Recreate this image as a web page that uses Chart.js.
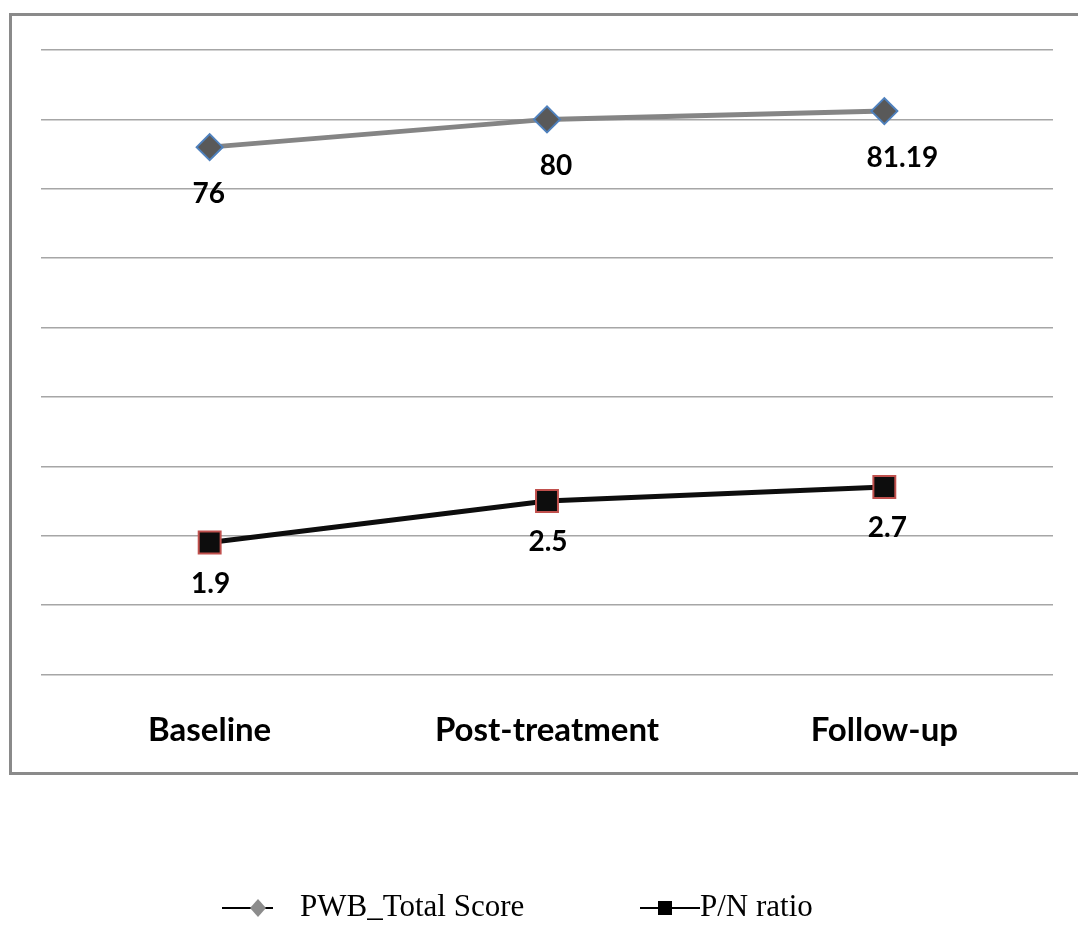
<!DOCTYPE html>
<html>
<head>
<meta charset="utf-8">
<script src="https://cdn.jsdelivr.net/npm/chart.js@4.4.1/dist/chart.umd.min.js"></script>
<style>
  html, body { margin: 0; padding: 0; background: #ffffff; }
  #wrap { width: 1078px; height: 925px; position: relative; }
</style>
</head>
<body>
<div id="wrap"><canvas id="chart" width="1078" height="925"></canvas></div>
<script>
// Time points of the study
const categories = ['Baseline', 'Post-treatment', 'Follow-up'];
// Psychological well-being total score
const pwbScores = [76, 80, 81.19];
// Positive / negative affect ratio
const pnRatios = [1.9, 2.5, 2.7];
// Series names
const seriesNames = ['PWB_Total Score', 'P/N ratio'];

// Frame around the plot region
const framePlugin = {
  id: 'frame',
  beforeDraw(chart) {
    const ctx = chart.ctx;
    ctx.save();
    ctx.fillStyle = '#ffffff';
    ctx.fillRect(0, 0, chart.width, chart.height);
    ctx.strokeStyle = '#8a8a8a';
    ctx.lineWidth = 3;
    ctx.strokeRect(10.5, 14.5, 1200, 759);
    ctx.restore();
  }
};

// Value labels under each point
const valueLabelPlugin = {
  id: 'valueLabels',
  afterDatasetsDraw(chart, args, opts) {
    const ctx = chart.ctx;
    ctx.save();
    ctx.font = opts.font;
    ctx.fillStyle = '#000000';
    ctx.textAlign = 'center';
    ctx.textBaseline = 'middle';
    chart.data.datasets.forEach((ds, i) => {
      const meta = chart.getDatasetMeta(i);
      const dy = opts.offsets[i];
      meta.data.forEach((pt, j) => {
        const dx = opts.shiftX[i][j];
        ctx.fillText(String(ds.data[j]), pt.x + dx, pt.y + dy);
      });
    });
    ctx.restore();
  }
};

// Legend with line-and-marker samples
const legendPlugin = {
  id: 'lineLegend',
  afterDraw(chart) {
    const ctx = chart.ctx;
    const y = 908;
    ctx.save();
    ctx.strokeStyle = '#000000';
    ctx.lineWidth = 2;
    // first entry
    ctx.beginPath(); ctx.moveTo(222, y); ctx.lineTo(273, y); ctx.stroke();
    ctx.fillStyle = '#8c8c8c';
    ctx.beginPath();
    ctx.moveTo(258, y - 9); ctx.lineTo(266, y); ctx.lineTo(258, y + 9); ctx.lineTo(250, y);
    ctx.closePath(); ctx.fill();
    // second entry
    ctx.beginPath(); ctx.moveTo(640, y); ctx.lineTo(700, y); ctx.stroke();
    ctx.fillStyle = '#000000';
    ctx.fillRect(658, y - 7, 14, 14);
    ctx.font = '31px "Liberation Serif", serif';
    ctx.textBaseline = 'middle';
    ctx.textAlign = 'left';
    ctx.fillText(seriesNames[0], 300, y);
    ctx.fillText(seriesNames[1], 700, y);
    ctx.restore();
  }
};

new Chart(document.getElementById('chart'), {
  type: 'line',
  data: {
    labels: categories,
    datasets: [
      {
        label: seriesNames[0],
        data: pwbScores,
        yAxisID: 'y',
        borderColor: '#858585',
        borderWidth: 5,
        pointStyle: 'rectRot',
        pointRadius: 13,
        pointBackgroundColor: '#595959',
        pointBorderColor: '#4f81bd',
        pointBorderWidth: 2,
        tension: 0
      },
      {
        label: seriesNames[1],
        data: pnRatios,
        yAxisID: 'y1',
        borderColor: '#0d0d0d',
        borderWidth: 5,
        pointStyle: 'rect',
        pointRadius: 15.5,
        pointBackgroundColor: '#0d0d0d',
        pointBorderColor: '#c0504d',
        pointBorderWidth: 2,
        tension: 0
      }
    ]
  },
  options: {
    responsive: false,
    animation: false,
    layout: { padding: { left: 41, right: 25, top: 50, bottom: 147 } },
    plugins: {
      legend: { display: false },
      tooltip: { enabled: false },
      valueLabels: {
        font: 'bold 28px Lato, sans-serif',
        offsets: [47, 41],
        shiftX: [[-1, 9, 18], [1, 1, 3]]
      }
    },
    scales: {
      x: {
        offset: true,
        grid: { display: false },
        border: { display: false },
        ticks: {
          color: '#000000',
          padding: 28,
          font: { family: 'Lato', weight: 'bold', size: 33 }
        }
      },
      y: {
        min: 0, max: 90,
        ticks: { display: false, stepSize: 10 },
        grid: { color: '#a6a6a6', lineWidth: 1.5, drawTicks: false },
        border: { display: false }
      },
      y1: {
        display: false,
        min: 0, max: 9
      }
    }
  },
  plugins: [framePlugin, valueLabelPlugin, legendPlugin]
});
</script>
</body>
</html>
